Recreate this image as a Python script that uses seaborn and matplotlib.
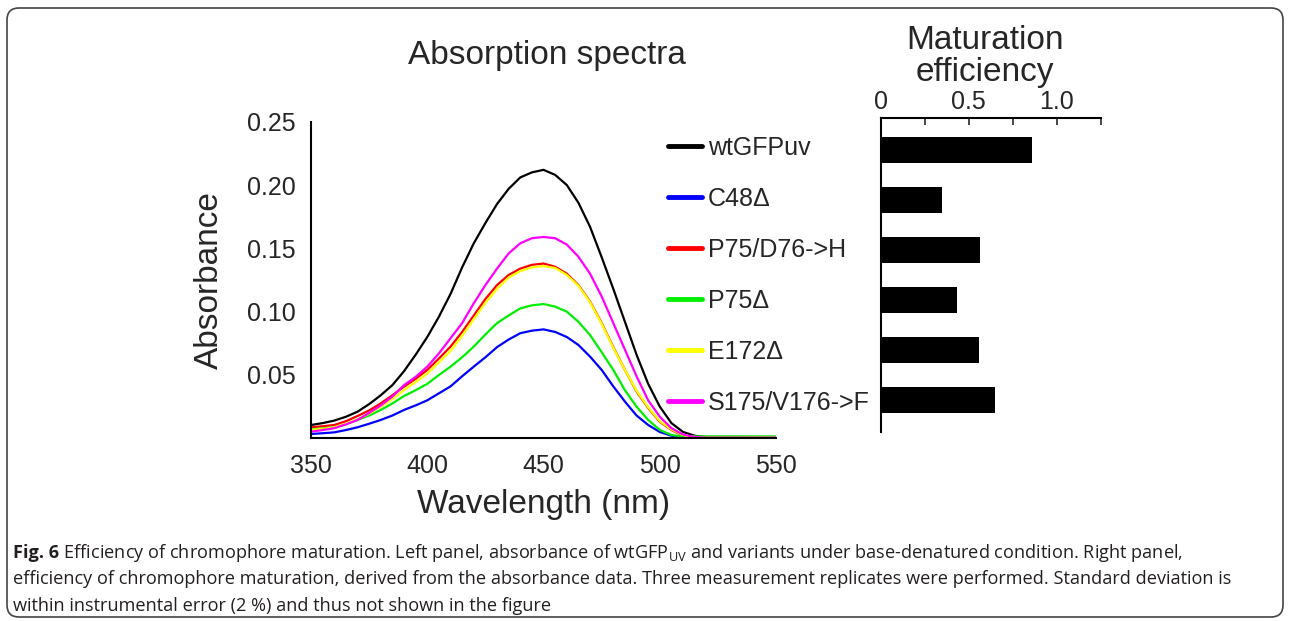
import numpy as np
import pandas as pd
import matplotlib
matplotlib.use("Agg")
import matplotlib.pyplot as plt
from matplotlib.lines import Line2D
from matplotlib.patches import FancyBboxPatch
import seaborn as sns

# ====================== DATA ======================
wavelength = list(range(350, 551, 5))

wt_gfpuv = [0.0105, 0.012, 0.014, 0.017, 0.021, 0.027, 0.034, 0.042, 0.053, 0.066,
            0.080, 0.096, 0.114, 0.135, 0.154, 0.170, 0.185, 0.197, 0.206, 0.210,
            0.212, 0.208, 0.200, 0.186, 0.167, 0.143, 0.118, 0.092, 0.066, 0.043,
            0.025, 0.012, 0.005, 0.002, 0.001, 0.001, 0.001, 0.001, 0.0008, 0.0008, 0.0008]
c48 = [0.0034, 0.004, 0.0047, 0.0065, 0.0087, 0.0115, 0.0145, 0.018, 0.0224, 0.026,
       0.030, 0.0355, 0.041, 0.049, 0.0566, 0.064, 0.072, 0.078, 0.083, 0.085,
       0.086, 0.084, 0.080, 0.0737, 0.0645, 0.054, 0.041, 0.029, 0.018, 0.0105,
       0.005, 0.002, 0.001, 0.0005, 0.0005, 0.0005, 0.0005, 0.0005, 0.0005, 0.0005, 0.0005]
p75_d76 = [0.0087, 0.0095, 0.0105, 0.0135, 0.0176, 0.022, 0.0276, 0.034, 0.0408, 0.047,
           0.054, 0.063, 0.0724, 0.084, 0.097, 0.110, 0.121, 0.129, 0.134, 0.137,
           0.138, 0.1355, 0.130, 0.121, 0.108, 0.091, 0.072, 0.054, 0.037, 0.024,
           0.013, 0.0066, 0.002, 0.001, 0.0005, 0.0005, 0.0005, 0.0005, 0.0005, 0.0005, 0.0005]
p75 = [0.007, 0.0078, 0.0087, 0.011, 0.0145, 0.018, 0.0224, 0.0275, 0.0334, 0.038,
       0.043, 0.050, 0.0566, 0.064, 0.0724, 0.082, 0.091, 0.097, 0.1026, 0.105,
       0.106, 0.104, 0.100, 0.092, 0.0816, 0.068, 0.054, 0.038, 0.025, 0.0145,
       0.0066, 0.0026, 0.0015, 0.0015, 0.0015, 0.0015, 0.0015, 0.0015, 0.0015, 0.0015, 0.0015]
e172 = [0.0066, 0.0075, 0.0087, 0.0115, 0.015, 0.0195, 0.025, 0.031, 0.038, 0.0445,
        0.051, 0.060, 0.069, 0.081, 0.094, 0.107, 0.118, 0.127, 0.132, 0.135,
        0.136, 0.1345, 0.129, 0.1205, 0.1075, 0.0905, 0.0715, 0.054, 0.0375, 0.0245,
        0.0135, 0.007, 0.0025, 0.001, 0.0005, 0.0005, 0.0005, 0.0005, 0.0005, 0.0005, 0.0005]
s175_v176 = [0.0052, 0.0065, 0.008, 0.011, 0.0145, 0.020, 0.026, 0.033, 0.042, 0.0485,
             0.0566, 0.067, 0.079, 0.091, 0.1066, 0.121, 0.134, 0.146, 0.154, 0.158,
             0.159, 0.158, 0.153, 0.1434, 0.130, 0.112, 0.091, 0.070, 0.049, 0.030,
             0.017, 0.008, 0.003, 0.001, 0.0005, 0.0005, 0.0005, 0.0005, 0.0005, 0.0005, 0.0005]

variants = ["wtGFPuv", "C48Δ", "P75/D76->H", "P75Δ", "E172Δ", "S175/V176->F"]
spectra = [wt_gfpuv, c48, p75_d76, p75, e172, s175_v176]
PALETTE = {"wtGFPuv": "#000000", "C48Δ": "#0000ff", "P75/D76->H": "#ff0000",
           "P75Δ": "#00ee00", "E172Δ": "#ffff00", "S175/V176->F": "#ff00ff"}

efficiency = [0.86, 0.348, 0.564, 0.432, 0.556, 0.647]

caption_head = "Fig. 6"
caption_lines = [
    r" Efficiency of chromophore maturation. Left panel, absorbance of wtGFP$_{\rm UV}$ and variants under base-denatured condition. Right panel,",
    "efficiency of chromophore maturation, derived from the absorbance data. Three measurement replicates were performed. Standard deviation is",
    "within instrumental error (2 %) and thus not shown in the figure",
]

# long format for seaborn
df = pd.DataFrame({
    "Wavelength": wavelength * len(variants),
    "Absorbance": sum(spectra, []),
    "Variant": [v for v in variants for _ in wavelength],
})

# ====================== STYLE ======================
sns.set_style("white")
plt.rcParams["font.family"] = ["Liberation Sans", "DejaVu Sans"]
plt.rcParams["mathtext.fontset"] = "custom"
plt.rcParams["mathtext.rm"] = "Open Sans"
plt.rcParams["mathtext.bf"] = "Open Sans:bold"

fig = plt.figure(figsize=(12.9, 6.21), dpi=100)

# ------------ LEFT: ABSORPTION SPECTRA ------------
ax = fig.add_axes([0.2411, 0.2942, 0.3605, 0.5098])
sns.lineplot(data=df, x="Wavelength", y="Absorbance", hue="Variant", hue_order=variants,
             palette=PALETTE, estimator=None, linewidth=1.6, legend=False, ax=ax)
ax.set_xlim(350, 550)
ax.set_ylim(0, 0.25)
ax.set_xticks([350, 400, 450, 500, 550])
ax.set_yticks([0.05, 0.10, 0.15, 0.20, 0.25])
ax.set_yticklabels([f"{t:.2f}" for t in [0.05, 0.10, 0.15, 0.20, 0.25]])
ax.tick_params(axis="x", direction="in", length=6, width=1.5, pad=11, labelsize=18)
ax.tick_params(axis="y", direction="in", length=5, width=1.5, pad=11, labelsize=18)
for side in ["top", "right"]:
    ax.spines[side].set_visible(False)
for side in ["left", "bottom"]:
    ax.spines[side].set_linewidth(1.5)
    ax.spines[side].set_color("black")
ax.set_xlabel("Wavelength (nm)", fontsize=24, labelpad=8)
ax.set_ylabel("Absorbance", fontsize=24, labelpad=16)
fig.text(547 / 1290, 0.911, "Absorption spectra", fontsize=24, ha="center", va="center")

handles = [Line2D([0], [0], color=PALETTE[v], lw=3.5) for v in variants]
fig.legend(handles, variants, loc="center left", bbox_to_anchor=(668 / 1290, 0.557),
           frameon=False, fontsize=18, handlelength=1.36, handletextpad=0.24,
           labelspacing=1.08, borderpad=0, borderaxespad=0)

# ------------ RIGHT: MATURATION EFFICIENCY ------------
ax2 = fig.add_axes([0.6827, 0.3043, 0.1705, 0.5056])
sns.barplot(x=efficiency, y=variants, orient="h", color="black", saturation=1,
            width=0.52, edgecolor="none", ax=ax2)
ax2.set_xlim(0, 1.25)
ax2.set_ylim(5.64, -0.64)
ax2.xaxis.tick_top()
ax2.set_xticks([0, 0.25, 0.5, 0.75, 1.0, 1.25])
ax2.set_xticklabels(["0", "", "0.5", "", "1.0", ""])
ax2.set_yticks([])
ax2.tick_params(axis="x", direction="in", length=5, width=1.2, pad=3, labelsize=18)
for side in ["bottom", "right"]:
    ax2.spines[side].set_visible(False)
for side in ["left", "top"]:
    ax2.spines[side].set_linewidth(1.5)
    ax2.spines[side].set_color("black")
ax2.set_xlabel("")
ax2.set_ylabel("")
fig.text(985 / 1290, 0.909, "Maturation\nefficiency", fontsize=24, ha="center", va="center",
         linespacing=1.02)

# ------------ CAPTION & BORDER ------------
cap_size = 13.1
cap_color = "#231f20"
y_cap = [1 - (553 + 26.5 * i) / 621 for i in range(3)]
head = fig.text(13 / 1290, y_cap[0], caption_head, fontsize=cap_size, family="Open Sans",
                weight="bold", color=cap_color, ha="left", va="center")
renderer = fig.canvas.get_renderer()
head_end = head.get_window_extent(renderer).x1 / fig.bbox.width
fig.text(head_end, y_cap[0], caption_lines[0], fontsize=cap_size, family="Open Sans",
         color=cap_color, ha="left", va="center")
for i in (1, 2):
    fig.text(13 / 1290, y_cap[i], caption_lines[i], fontsize=cap_size, family="Open Sans",
             color=cap_color, ha="left", va="center")

border = FancyBboxPatch((0.07, 0.04), 12.76, 6.09, boxstyle="round,pad=0,rounding_size=0.12",
                        transform=fig.dpi_scale_trans, fill=False, edgecolor="#444444", lw=1.2)
fig.patches.append(border)

fig.savefig("out.png", dpi=100)
